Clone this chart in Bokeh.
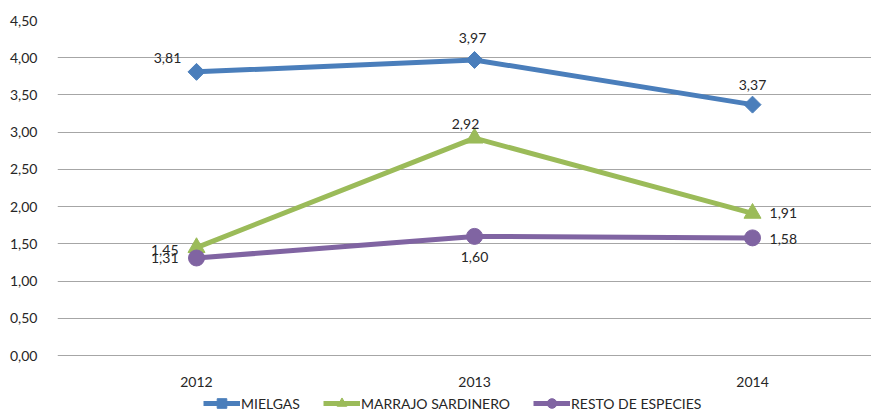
import math
from bokeh.plotting import figure
from bokeh.models import (ColumnDataSource, FixedTicker, CustomJSTickFormatter,
                          Legend, LegendItem, Range1d)
from bokeh.core.properties import value
from bokeh.embed import file_html
from bokeh.resources import INLINE

years = ["2012", "2013", "2014"]
mielgas = [3.81, 3.97, 3.37]
marrajo = [1.45, 2.92, 1.91]
resto = [1.31, 1.60, 1.58]
series_names = ["MIELGAS", "MARRAJO SARDINERO", "RESTO DE ESPECIES"]
y_ticks = [0, 0.5, 1.0, 1.5, 2.0, 2.5, 3.0, 3.5, 4.0, 4.5]

FONT = "Lato"
colors = ["#4A7EBB", "#9BBB59", "#8064A2"]
markers = ["square", "triangle", "circle"]
angles = [math.pi / 4, 0, 0]
sizes = [12, 17, 16]
# label offsets (style) per series, per point: (dx, dy, align)
label_offsets = [
    [(-29, -14, "center"), (-2, -22, "center"), (0, -20, "center")],
    [(-18, 2, "right"), (-9, -14, "center"), (17, 0, "left")],
    [(-18, 0, "right"), (0, 21, "center"), (17, 1, "left")],
]

xs = list(range(len(years)))

p = figure(width=871, height=411, output_backend="svg", toolbar_location=None,
           x_range=Range1d(-0.5, 2.428), y_range=Range1d(-0.752, 4.5),
           min_border_left=57, min_border_right=0, min_border_top=20,
           min_border_bottom=0)
p.outline_line_color = None
p.background_fill_color = "white"
p.border_fill_color = "white"

p.xgrid.visible = False
p.ygrid.grid_line_color = "#A6A6A6"
p.ygrid.grid_line_width = 1
p.yaxis.ticker = FixedTicker(ticks=y_ticks)
p.ygrid.ticker = FixedTicker(ticks=y_ticks)
p.yaxis.formatter = CustomJSTickFormatter(code="return tick.toFixed(2).replace('.', ',');")
p.yaxis.axis_line_color = None
p.yaxis.major_tick_line_color = None
p.yaxis.minor_tick_line_color = None
p.yaxis.major_label_standoff = 14
p.xaxis.ticker = FixedTicker(ticks=xs)
p.xaxis.fixed_location = 0
p.xaxis.major_label_overrides = {i: y for i, y in enumerate(years)}
p.xaxis.axis_line_color = None
p.xaxis.major_tick_line_color = None
p.xaxis.minor_tick_line_color = None
p.xaxis.major_label_standoff = 15
for ax in (p.xaxis, p.yaxis):
    ax.major_label_text_font = FONT
    ax.major_label_text_font_size = "14px"
    ax.major_label_text_color = "#262626"

items = []
for vals, name, col, mk, ang, sz, offs in zip([mielgas, marrajo, resto], series_names,
                                              colors, markers, angles, sizes,
                                              label_offsets):
    src = ColumnDataSource(dict(
        x=xs, y=vals,
        lab=[f"{v:.2f}".replace(".", ",") for v in vals],
        dx=[o[0] for o in offs], dy=[o[1] for o in offs],
        al=[o[2] for o in offs]))
    r1 = p.line("x", "y", source=src, line_color=col, line_width=5)
    r2 = p.scatter("x", "y", source=src, marker=mk, size=sz, angle=ang,
                   fill_color=col, line_color=col)
    p.text("x", "y", text="lab", source=src, x_offset="dx", y_offset="dy",
           text_align="al", text_baseline="middle", text_font=value(FONT),
           text_font_size="14px", text_color="#262626")
    items.append(LegendItem(label=name, renderers=[r1, r2]))

legend = Legend(items=items, orientation="horizontal", location=(146, -4),
                glyph_width=37, glyph_height=24, label_standoff=1, spacing=23,
                padding=0, margin=0, border_line_color=None,
                background_fill_alpha=0, label_text_font=FONT,
                label_text_font_size="14px", label_text_color="#262626",
                label_height=14)
p.add_layout(legend, "center")

open("out.html", "w").write(file_html(p, INLINE))
